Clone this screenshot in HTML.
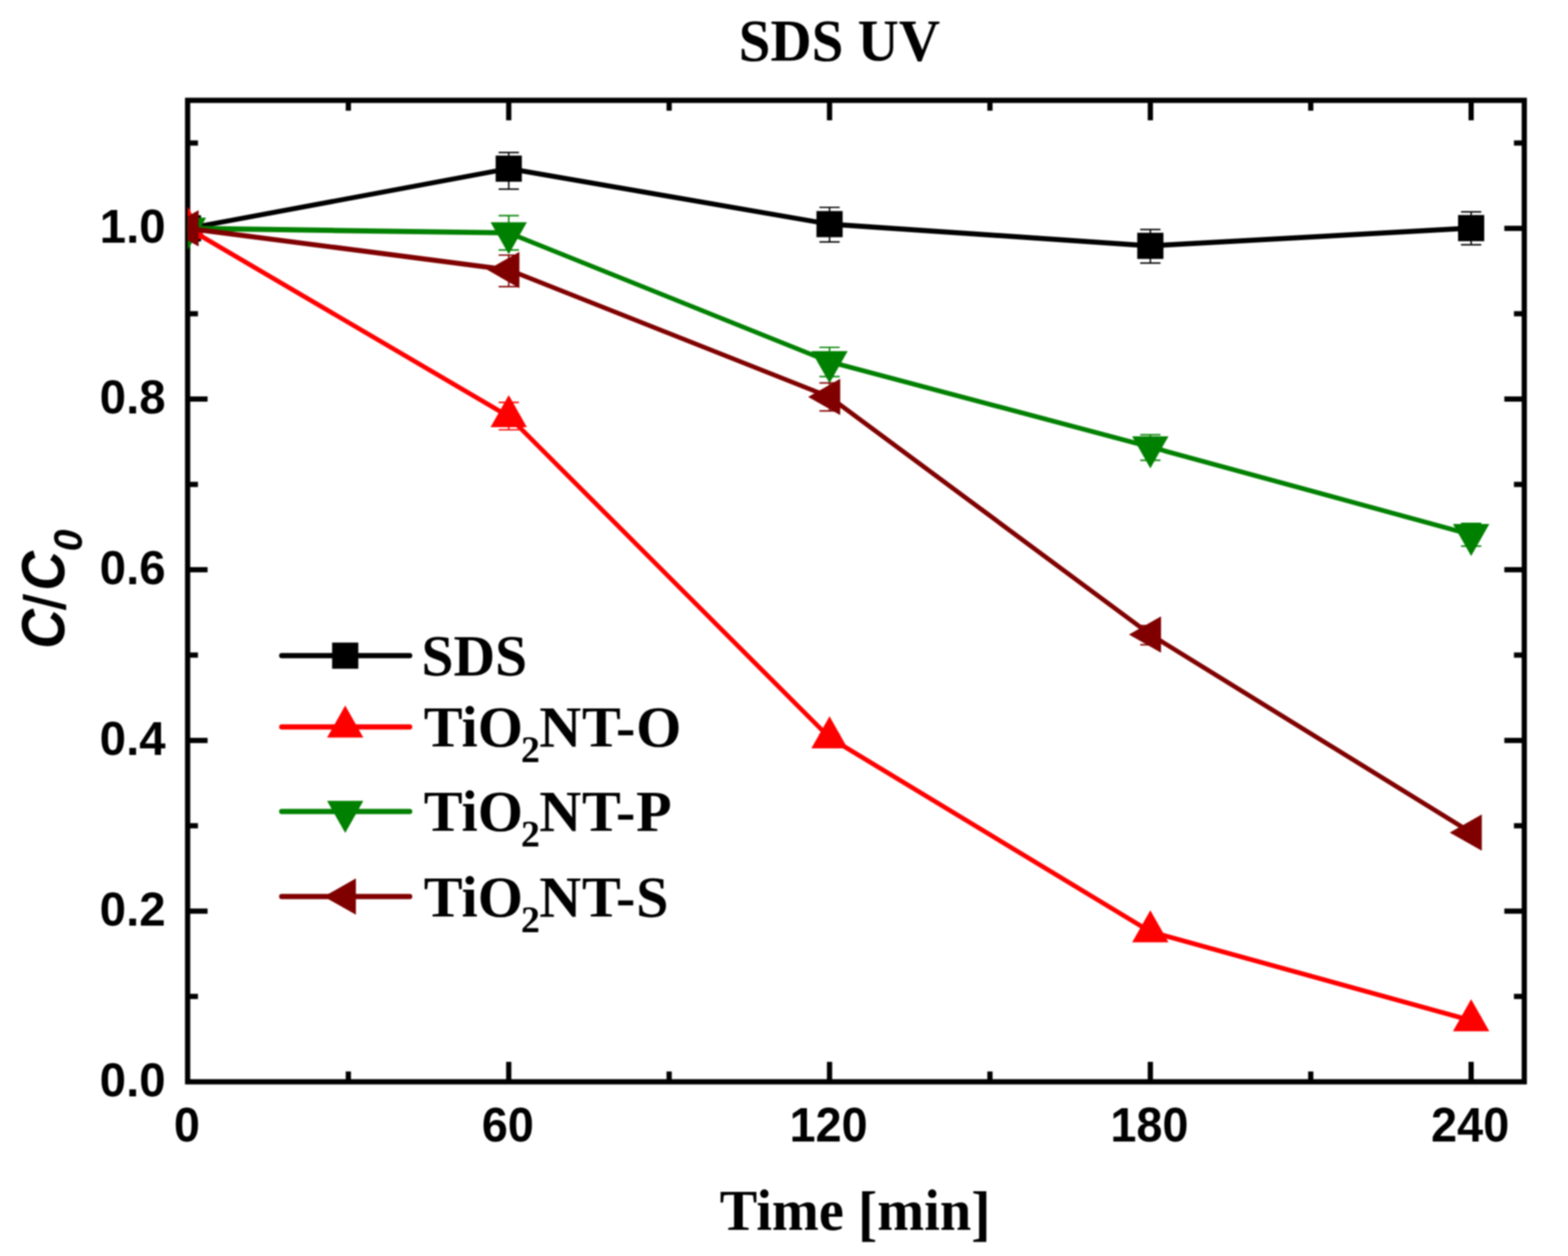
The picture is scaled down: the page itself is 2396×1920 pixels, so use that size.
<!DOCTYPE html>
<html lang="en"><head><meta charset="utf-8"><title>SDS UV</title>
<style>
html,body{margin:0;padding:0;background:#fff;}
body{width:2396px;height:1920px;overflow:hidden;}
svg{display:block;filter:blur(1.2px);}
.ser{font-family:"Liberation Serif",serif;font-weight:bold;fill:#000;}
.san{font-family:"Liberation Sans",sans-serif;font-weight:bold;fill:#000;}
</style></head><body>
<svg width="2396" height="1920" viewBox="0 0 2396 1920">
<rect x="0" y="0" width="2396" height="1920" fill="#ffffff"/>
<defs><clipPath id="plot"><rect x="286.7" y="153.4" width="2042.5" height="1500.3"/></clipPath></defs>
<text class="ser" transform="translate(1282.7,92.6) scale(0.872,0.905)" font-size="100" text-anchor="middle">SDS UV</text>
<g stroke="#000" stroke-width="8" fill="none" stroke-linecap="butt">
<rect x="286.7" y="153.4" width="2042.5" height="1500.3"/>
<line x1="532.3" y1="1653.7" x2="532.3" y2="1637.9"/>
<line x1="532.3" y1="153.4" x2="532.3" y2="169.2"/>
<line x1="777.4" y1="1653.7" x2="777.4" y2="1623.2"/>
<line x1="777.4" y1="153.4" x2="777.4" y2="183.9"/>
<line x1="1022.5" y1="1653.7" x2="1022.5" y2="1637.9"/>
<line x1="1022.5" y1="153.4" x2="1022.5" y2="169.2"/>
<line x1="1267.6" y1="1653.7" x2="1267.6" y2="1623.2"/>
<line x1="1267.6" y1="153.4" x2="1267.6" y2="183.9"/>
<line x1="1512.7" y1="1653.7" x2="1512.7" y2="1637.9"/>
<line x1="1512.7" y1="153.4" x2="1512.7" y2="169.2"/>
<line x1="1757.8" y1="1653.7" x2="1757.8" y2="1623.2"/>
<line x1="1757.8" y1="153.4" x2="1757.8" y2="183.9"/>
<line x1="2002.9" y1="1653.7" x2="2002.9" y2="1637.9"/>
<line x1="2002.9" y1="153.4" x2="2002.9" y2="169.2"/>
<line x1="2248.0" y1="1653.7" x2="2248.0" y2="1623.2"/>
<line x1="2248.0" y1="153.4" x2="2248.0" y2="183.9"/>
<line x1="286.7" y1="1523.2" x2="302.5" y2="1523.2"/>
<line x1="2329.2" y1="1523.2" x2="2313.4" y2="1523.2"/>
<line x1="286.7" y1="1392.8" x2="317.2" y2="1392.8"/>
<line x1="2329.2" y1="1392.8" x2="2298.7" y2="1392.8"/>
<line x1="286.7" y1="1262.3" x2="302.5" y2="1262.3"/>
<line x1="2329.2" y1="1262.3" x2="2313.4" y2="1262.3"/>
<line x1="286.7" y1="1131.9" x2="317.2" y2="1131.9"/>
<line x1="2329.2" y1="1131.9" x2="2298.7" y2="1131.9"/>
<line x1="286.7" y1="1001.4" x2="302.5" y2="1001.4"/>
<line x1="2329.2" y1="1001.4" x2="2313.4" y2="1001.4"/>
<line x1="286.7" y1="870.9" x2="317.2" y2="870.9"/>
<line x1="2329.2" y1="870.9" x2="2298.7" y2="870.9"/>
<line x1="286.7" y1="740.5" x2="302.5" y2="740.5"/>
<line x1="2329.2" y1="740.5" x2="2313.4" y2="740.5"/>
<line x1="286.7" y1="610.0" x2="317.2" y2="610.0"/>
<line x1="2329.2" y1="610.0" x2="2298.7" y2="610.0"/>
<line x1="286.7" y1="479.6" x2="302.5" y2="479.6"/>
<line x1="2329.2" y1="479.6" x2="2313.4" y2="479.6"/>
<line x1="286.7" y1="349.1" x2="317.2" y2="349.1"/>
<line x1="2329.2" y1="349.1" x2="2298.7" y2="349.1"/>
<line x1="286.7" y1="218.6" x2="302.5" y2="218.6"/>
<line x1="2329.2" y1="218.6" x2="2313.4" y2="218.6"/>
</g>
<text class="san" transform="translate(285.7,1745.3) scale(0.715,0.735)" font-size="100" text-anchor="middle">0</text>
<text class="san" transform="translate(775.9,1745.3) scale(0.715,0.735)" font-size="100" text-anchor="middle">60</text>
<text class="san" transform="translate(1266.1,1745.3) scale(0.715,0.735)" font-size="100" text-anchor="middle">120</text>
<text class="san" transform="translate(1756.3,1745.3) scale(0.715,0.735)" font-size="100" text-anchor="middle">180</text>
<text class="san" transform="translate(2246.5,1745.3) scale(0.715,0.735)" font-size="100" text-anchor="middle">240</text>
<text class="san" transform="translate(253.1,1676.0) scale(0.725,0.715)" font-size="100" text-anchor="end">0.0</text>
<text class="san" transform="translate(253.1,1415.1) scale(0.725,0.715)" font-size="100" text-anchor="end">0.2</text>
<text class="san" transform="translate(253.1,1154.2) scale(0.725,0.715)" font-size="100" text-anchor="end">0.4</text>
<text class="san" transform="translate(253.1,893.2) scale(0.725,0.715)" font-size="100" text-anchor="end">0.6</text>
<text class="san" transform="translate(253.1,632.3) scale(0.725,0.715)" font-size="100" text-anchor="end">0.8</text>
<text class="san" transform="translate(253.1,371.4) scale(0.725,0.715)" font-size="100" text-anchor="end">1.0</text>
<text class="ser" transform="translate(1306.8,1879.9) scale(0.860,0.898)" font-size="100" text-anchor="middle">Time <tspan font-size="104" dy="6.6">[</tspan><tspan dy="-6.6">min</tspan><tspan font-size="104" dy="6.6">]</tspan></text>
<g transform="translate(98,987.8) rotate(-90)"><text class="san" transform="scale(0.837,0.92)" font-size="100"><tspan font-style="italic" x="-4.8" y="0">C</tspan><tspan font-weight="normal" font-size="95" stroke="#000" stroke-width="2.4" x="67.4" y="1.6">/</tspan><tspan font-style="italic" x="101.4" y="0">C</tspan></text><text class="san" transform="translate(145.0,27.4) scale(0.598,0.616)" font-size="100" font-style="italic">0</text></g>
<g clip-path="url(#plot)">
<g stroke="#000000" stroke-linecap="round" fill="none"><line x1="287.2" y1="349.1" x2="777.4" y2="257.8" stroke-width="7.47"/><line x1="777.4" y1="257.8" x2="1267.6" y2="342.6" stroke-width="7.51"/><line x1="1267.6" y1="342.6" x2="1757.8" y2="375.8" stroke-width="7.81"/><line x1="1757.8" y1="375.8" x2="2248.0" y2="348.7" stroke-width="7.84"/></g>
<path d="M777.4 233.1V289.1M761.9 233.1H792.9M761.9 289.1H792.9M1267.6 317.0V369.8M1252.1 317.0H1283.1M1252.1 369.8H1283.1M1757.8 350.8V402.2M1742.3 350.8H1773.3M1742.3 402.2H1773.3M2248.0 323.8V374.1M2232.5 323.8H2263.5M2232.5 374.1H2263.5" fill="none" stroke="#000000" stroke-width="2.2"/>
<rect x="267.2" y="329.1" width="40.0" height="40.0" fill="#000000"/>
<rect x="757.4" y="237.8" width="40.0" height="40.0" fill="#000000"/>
<rect x="1247.6" y="322.6" width="40.0" height="40.0" fill="#000000"/>
<rect x="1737.8" y="355.8" width="40.0" height="40.0" fill="#000000"/>
<rect x="2228.0" y="328.7" width="40.0" height="40.0" fill="#000000"/>
<g stroke="#ff0000" stroke-linecap="round" fill="none"><line x1="287.2" y1="349.1" x2="777.4" y2="636.6" stroke-width="7.00"/><line x1="777.4" y1="636.6" x2="1267.6" y2="1127.6" stroke-width="7.00"/><line x1="1267.6" y1="1127.6" x2="1757.8" y2="1424.2" stroke-width="7.00"/><line x1="1757.8" y1="1424.2" x2="2248.0" y2="1560.0" stroke-width="7.23"/></g>
<path d="M777.4 615.1V657.0M761.9 615.1H792.9M761.9 657.0H792.9M1267.6 1122.0V1133.0M1252.1 1122.0H1283.1M1252.1 1133.0H1283.1M1757.8 1419.0V1430.0M1742.3 1419.0H1773.3M1742.3 1430.0H1773.3M2248.0 1555.0V1565.0M2232.5 1555.0H2263.5M2232.5 1565.0H2263.5" fill="none" stroke="#ff0000" stroke-width="2.2"/>
<polygon points="287.2,316.4 314.9,365.4 259.4,365.4" fill="#ff0000"/>
<polygon points="777.4,604.0 805.1,653.0 749.6,653.0" fill="#ff0000"/>
<polygon points="1267.6,1094.9 1295.3,1143.9 1239.8,1143.9" fill="#ff0000"/>
<polygon points="1757.8,1391.6 1785.5,1440.6 1730.0,1440.6" fill="#ff0000"/>
<polygon points="2248.0,1527.4 2275.8,1576.4 2220.2,1576.4" fill="#ff0000"/>
<g stroke="#008000" stroke-linecap="round" fill="none"><line x1="287.2" y1="349.1" x2="777.4" y2="356.0" stroke-width="7.96"/><line x1="777.4" y1="356.0" x2="1267.6" y2="553.0" stroke-width="7.00"/><line x1="1267.6" y1="553.0" x2="1757.8" y2="683.2" stroke-width="7.26"/><line x1="1757.8" y1="683.2" x2="2248.0" y2="817.3" stroke-width="7.23"/></g>
<path d="M777.4 329.7V382.1M761.9 329.7H792.9M761.9 382.1H792.9M1267.6 531.0V575.7M1252.1 531.0H1283.1M1252.1 575.7H1283.1M1757.8 664.6V703.6M1742.3 664.6H1773.3M1742.3 703.6H1773.3M2248.0 800.0V834.8M2232.5 800.0H2263.5M2232.5 834.8H2263.5" fill="none" stroke="#008000" stroke-width="2.2"/>
<polygon points="287.2,381.8 314.9,332.8 259.4,332.8" fill="#008000"/>
<polygon points="777.4,388.7 805.1,339.7 749.6,339.7" fill="#008000"/>
<polygon points="1267.6,585.7 1295.3,536.7 1239.8,536.7" fill="#008000"/>
<polygon points="1757.8,715.9 1785.5,666.9 1730.0,666.9" fill="#008000"/>
<polygon points="2248.0,850.0 2275.8,801.0 2220.2,801.0" fill="#008000"/>
<g stroke="#800000" stroke-linecap="round" fill="none"><line x1="287.2" y1="349.1" x2="777.4" y2="412.6" stroke-width="7.63"/><line x1="777.4" y1="412.6" x2="1267.6" y2="606.8" stroke-width="7.00"/><line x1="1267.6" y1="606.8" x2="1757.8" y2="970.0" stroke-width="7.00"/><line x1="1757.8" y1="970.0" x2="2248.0" y2="1272.8" stroke-width="7.00"/></g>
<path d="M777.4 390.0V438.1M761.9 390.0H792.9M761.9 438.1H792.9M1267.6 585.4V628.2M1252.1 585.4H1283.1M1252.1 628.2H1283.1M1757.8 956.3V985.6M1742.3 956.3H1773.3M1742.3 985.6H1773.3M2248.0 1267.0V1278.0M2232.5 1267.0H2263.5M2232.5 1278.0H2263.5" fill="none" stroke="#800000" stroke-width="2.2"/>
<polygon points="254.5,349.1 303.5,321.3 303.5,376.8" fill="#800000"/>
<polygon points="744.7,412.6 793.7,384.9 793.7,440.4" fill="#800000"/>
<polygon points="1234.9,606.8 1283.9,579.0 1283.9,634.5" fill="#800000"/>
<polygon points="1725.1,970.0 1774.1,942.2 1774.1,997.7" fill="#800000"/>
<polygon points="2215.3,1272.8 2264.3,1245.0 2264.3,1300.5" fill="#800000"/>
</g>
<line x1="430.5" y1="1002.3" x2="626.0" y2="1002.3" stroke="#000000" stroke-width="8.0" stroke-linecap="round"/>
<rect x="507.5" y="982.3" width="40.0" height="40.0" fill="#000000"/>
<text class="ser" transform="translate(644.0,1032.2) scale(0.881,0.895)" font-size="100">SDS</text>
<line x1="430.5" y1="1111.3" x2="626.0" y2="1111.3" stroke="#ff0000" stroke-width="8.0" stroke-linecap="round"/>
<polygon points="527.5,1078.6 555.2,1127.6 499.8,1127.6" fill="#ff0000"/>
<text class="ser" x="647.6" y="1141.3" font-size="89">TiO<tspan font-size="58" dx="-3.2" dy="24">2</tspan><tspan dx="-1" dy="-24" letter-spacing="0.9">NT-O</tspan></text>
<line x1="430.5" y1="1240.5" x2="626.0" y2="1240.5" stroke="#008000" stroke-width="8.0" stroke-linecap="round"/>
<polygon points="527.5,1273.2 555.2,1224.2 499.8,1224.2" fill="#008000"/>
<text class="ser" x="647.6" y="1270.3" font-size="89">TiO<tspan font-size="58" dx="-3.2" dy="24">2</tspan><tspan dx="-1" dy="-24" letter-spacing="0.9">NT-P</tspan></text>
<line x1="430.5" y1="1370.6" x2="626.0" y2="1370.6" stroke="#800000" stroke-width="8.0" stroke-linecap="round"/>
<polygon points="494.8,1370.6 543.8,1342.8 543.8,1398.3" fill="#800000"/>
<text class="ser" x="647.6" y="1400.8" font-size="89">TiO<tspan font-size="58" dx="-3.2" dy="24">2</tspan><tspan dx="-1" dy="-24" letter-spacing="0.9">NT-S</tspan></text>
</svg></body></html>
